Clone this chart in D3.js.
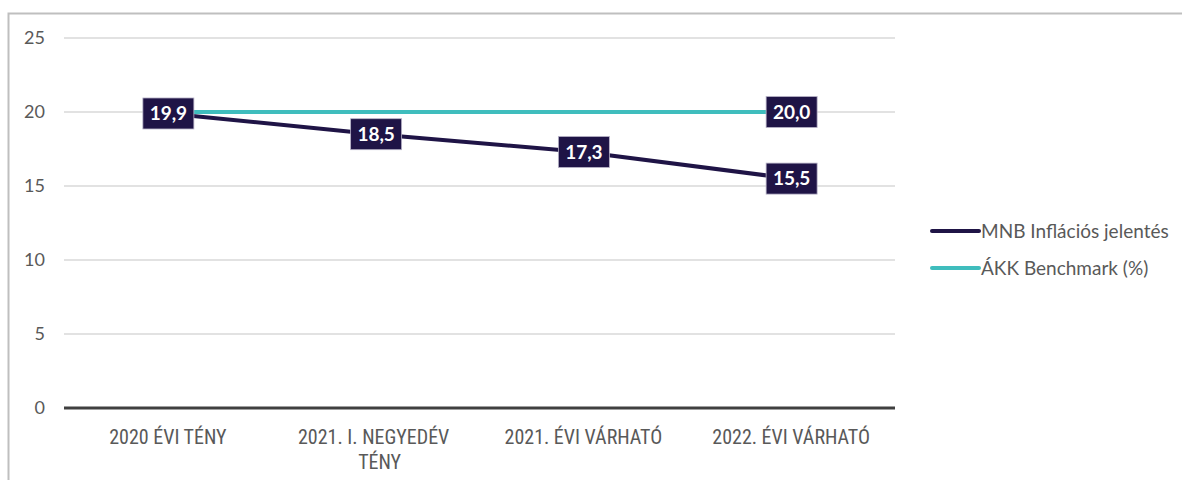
<!DOCTYPE html>
<html><head><meta charset="utf-8">
<script src="https://cdn.jsdelivr.net/npm/d3@7"></script>
<style>body{margin:0;background:#fff;}svg{display:block;}</style>
</head><body>
<svg id="c" width="1182" height="480"></svg>
<script>
const categories = ["2020 ÉVI TÉNY", "2021. I. NEGYEDÉV TÉNY", "2021. ÉVI VÁRHATÓ", "2022. ÉVI VÁRHATÓ"];
const mnbValues = [19.9, 18.5, 17.3, 15.5];
const akkValues = [20.0, 20.0, 20.0, 20.0];
const yTicks = [0, 5, 10, 15, 20, 25];
const seriesNames = ["MNB Inflációs jelentés", "ÁKK Benchmark (%)"];
const colors = ["#1f1446", "#3fbdbd"];

const svg = d3.select("#c");
const m = {left: 64, right: 895, top: 38, bottom: 408};
const x = d3.scaleBand().domain(categories).range([m.left, m.right]);
const y = d3.scaleLinear().domain([0, 25]).range([m.bottom, m.top]);
const font = "Lato, 'Open Sans', sans-serif";

// border
svg.append("rect").attr("x", 8.5).attr("y", 13.5).attr("width", 1200).attr("height", 500)
  .attr("fill", "none").attr("stroke", "#bfbfbf").attr("stroke-width", 2);

// gridlines
svg.append("g").selectAll("line").data(yTicks.filter(d => d > 0)).join("line")
  .attr("x1", m.left).attr("x2", m.right).attr("y1", d => y(d)).attr("y2", d => y(d))
  .attr("stroke", "#d9d9d9").attr("stroke-width", 1.5);

// y axis labels
const yAxis = d3.axisLeft(y).tickValues(yTicks).tickSize(0).tickPadding(0).tickFormat(d => d);
const yg = svg.append("g").attr("transform", `translate(${m.left - 19},0)`).call(yAxis);
yg.select(".domain").remove();
yg.selectAll("text").attr("font-family", font).attr("font-size", 18).attr("fill", "#595959");

// baseline
svg.append("line").attr("x1", m.left).attr("x2", m.right).attr("y1", y(0)).attr("y2", y(0))
  .attr("stroke", "#404040").attr("stroke-width", 3);

// x labels
const xAxis = d3.axisBottom(x).tickSize(0).tickPadding(0);
const xg = svg.append("g").attr("transform", `translate(0,${y(0) + 36})`).call(xAxis);
xg.select(".domain").remove();
xg.selectAll("text").attr("font-family", "'Liberation Sans Narrow', 'Roboto Condensed', sans-serif")
  .attr("font-size", 20).attr("fill", "#595959").attr("dy", 0)
  .each(function(d) {
    const t = d3.select(this);
    if (d === "2021. I. NEGYEDÉV TÉNY") {
      t.text(null);
      t.append("tspan").attr("x", -2).attr("dy", 0).text("2021. I. NEGYEDÉV");
      t.append("tspan").attr("x", 4).attr("dy", 25).text("TÉNY");
    }
  });

const cx = d => x(d) + x.bandwidth() / 2;
const line = d3.line().x((d, i) => cx(categories[i])).y(d => y(d));

svg.append("path").datum(akkValues).attr("d", line).attr("fill", "none")
  .attr("stroke", colors[1]).attr("stroke-width", 4);
svg.append("path").datum(mnbValues).attr("d", line).attr("fill", "none")
  .attr("stroke", colors[0]).attr("stroke-width", 4).attr("stroke-linecap", "round");

// data labels
function label(v, i) {
  const g = svg.append("g").attr("transform", `translate(${cx(categories[i])},${y(v)})`);
  g.append("rect").attr("x", -25).attr("y", -15.5).attr("width", 51).attr("height", 31)
    .attr("fill", colors[0]).attr("stroke", "#b8b4c8").attr("stroke-width", 0.8);
  g.append("text").attr("x", 0.5).attr("text-anchor", "middle").attr("dy", "0.36em")
    .attr("font-family", font).attr("font-weight", "bold").attr("font-size", 19)
    .attr("fill", "#fff").text(d3.format(".1f")(v).replace(".", ","));
}
mnbValues.forEach((v, i) => label(v, i));
label(akkValues[3], 3);

// legend
const lg = svg.append("g");
seriesNames.forEach((n, i) => {
  const ly = 231 + i * 37;
  lg.append("line").attr("x1", 932).attr("x2", 979).attr("y1", ly).attr("y2", ly)
    .attr("stroke", colors[i]).attr("stroke-width", 4).attr("stroke-linecap", "round");
  lg.append("text").attr("x", 981).attr("y", ly).attr("dy", "0.35em")
    .attr("font-family", font).attr("font-size", 19).attr("fill", "#595959").text(n);
});
</script>
</body></html>
